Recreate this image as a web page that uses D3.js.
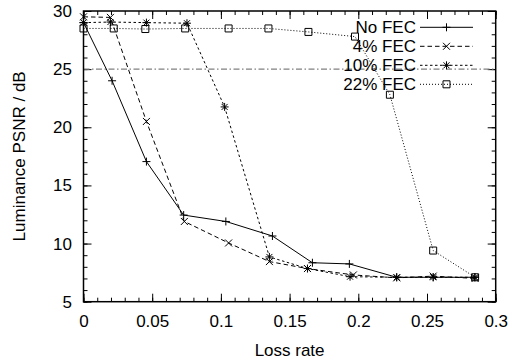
<!DOCTYPE html>
<html lang="en">
<head>
<meta charset="UTF-8">
<title>Luminance PSNR vs loss rate</title>
<script src="https://d3js.org/d3.v7.min.js"></script>
<style>
    body { margin: 0; padding: 0; background: #fff; }
    svg text { font-family: "Liberation Sans", Arial, sans-serif; font-size: 17px; fill: #000; }
    .line { fill: none; stroke: #000; stroke-width: 1; }
    .mark { fill: none; stroke: #000; stroke-width: 1; }
</style>
</head>
<body>
<div id="chart"></div>
<script>
    // loss rate (x) and luminance PSNR in dB (y)
    const seriesNames = ["No FEC", "4% FEC", "10% FEC", "22% FEC"];

    const noFecX = [0, 0.0208, 0.0458, 0.0729, 0.1036, 0.1375, 0.1666, 0.1935, 0.2279, 0.2545, 0.2847];
    const noFecY = [29.0, 24.0, 17.05, 12.45, 11.9, 10.65, 8.35, 8.25, 7.1, 7.1, 7.1];

    const fec4X = [0, 0.0196, 0.0458, 0.0734, 0.1056, 0.1353, 0.163, 0.1964, 0.228, 0.2545, 0.285];
    const fec4Y = [29.5, 29.45, 20.5, 11.9, 10.05, 8.45, 7.85, 7.3, 7.05, 7.2, 7.0];

    const fec10X = [0, 0.0196, 0.0458, 0.0753, 0.1027, 0.1353, 0.163, 0.194, 0.228, 0.2545, 0.285];
    const fec10Y = [29.0, 29.05, 29.0, 28.95, 21.75, 8.85, 7.85, 7.15, 7.1, 7.1, 7.1];

    const fec22X = [0, 0.022, 0.045, 0.074, 0.1056, 0.1346, 0.1637, 0.1976, 0.223, 0.2545, 0.285];
    const fec22Y = [28.5, 28.5, 28.45, 28.5, 28.5, 28.5, 28.2, 27.8, 22.8, 9.4, 7.1];

    const refLevel = 25;

    const xTicks = [0, 0.05, 0.1, 0.15, 0.2, 0.25, 0.3];
    const xMinor = d3.range(0, 0.3001, 0.01);
    const yTicks = [5, 10, 15, 20, 25, 30];
    const yMinor = d3.range(5, 30.001, 1);

    const width = 512, height = 362;
    const margin = { top: 11, right: 16.3, bottom: 60.3, left: 83.5 };
    const iw = width - margin.left - margin.right;
    const ih = height - margin.top - margin.bottom;

    const x = d3.scaleLinear().domain([0, 0.3]).range([0, iw]);
    const y = d3.scaleLinear().domain([5, 30]).range([ih, 0]);

    const svg = d3.select("#chart").append("svg")
        .attr("width", width)
        .attr("height", height);

    const g = svg.append("g")
        .attr("transform", `translate(${margin.left},${margin.top})`);

    // ticks: all inward, mirrored on top and right
    function addAxis(axis, tx, ty, labels) {
        const a = g.append("g").attr("transform", `translate(${tx},${ty})`).call(axis);
        a.select(".domain").remove();
        a.selectAll("line").attr("stroke", "#000").attr("stroke-width", 1);
        if (!labels) a.selectAll("text").remove();
        return a;
    }

    addAxis(d3.axisBottom(x).tickValues(xMinor).tickSize(-4).tickFormat(""), 0, ih, false);
    addAxis(d3.axisTop(x).tickValues(xMinor).tickSize(-4).tickFormat(""), 0, 0, false);
    addAxis(d3.axisBottom(x).tickValues(xTicks).tickSize(-8).tickPadding(13).tickFormat(d3.format("")), 0, ih, true);
    addAxis(d3.axisTop(x).tickValues(xTicks).tickSize(-8).tickFormat(""), 0, 0, false);

    addAxis(d3.axisLeft(y).tickValues(yMinor).tickSize(-4).tickFormat(""), 0, 0, false);
    addAxis(d3.axisRight(y).tickValues(yMinor).tickSize(-4).tickFormat(""), iw, 0, false);
    addAxis(d3.axisLeft(y).tickValues(yTicks).tickSize(-8).tickPadding(11.5).tickFormat(d3.format("")), 0, 0, true);
    addAxis(d3.axisRight(y).tickValues(yTicks).tickSize(-8).tickFormat(""), iw, 0, false);

    // reference level
    g.append("line")
        .attr("x1", 0).attr("x2", iw)
        .attr("y1", y(refLevel)).attr("y2", y(refLevel))
        .attr("stroke", "#808080")
        .attr("stroke-width", 1.2)
        .attr("stroke-dasharray", "6,2.5,1.5,2.5");

    const markerPaths = {
        plus: "M-4,0H4M0,-4V4",
        times: "M-3.5,-3.5L3.5,3.5M-3.5,3.5L3.5,-3.5",
        star: "M-4,0H4M0,-4V4M-3,-3L3,3M-3,3L3,-3",
        square: "M-3.5,-3.5H3.5V3.5H-3.5Z"
    };

    const series = [
        { name: seriesNames[0], xs: noFecX, ys: noFecY, dash: null, marker: "plus" },
        { name: seriesNames[1], xs: fec4X, ys: fec4Y, dash: "4.5,3", marker: "times" },
        { name: seriesNames[2], xs: fec10X, ys: fec10Y, dash: "2.5,2.5", marker: "star" },
        { name: seriesNames[3], xs: fec22X, ys: fec22Y, dash: "1,2", marker: "square" }
    ];

    const line = d3.line().x(d => x(d[0])).y(d => y(d[1]));

    series.forEach(s => {
        const pts = s.xs.map((v, i) => [v, s.ys[i]]);
        g.append("path")
            .datum(pts)
            .attr("class", "line")
            .attr("stroke-dasharray", s.dash)
            .attr("d", line);
        g.selectAll(null)
            .data(pts)
            .enter().append("path")
            .attr("class", "mark")
            .attr("transform", d => `translate(${x(d[0])},${y(d[1])})`)
            .attr("d", markerPaths[s.marker]);
    });

    // legend, top right, no box
    const legend = g.append("g").attr("transform", `translate(${416 - margin.left},${27.3 - margin.top})`);
    series.forEach((s, i) => {
        const row = legend.append("g").attr("transform", `translate(0,${i * 19})`);
        row.append("text")
            .attr("x", 0).attr("dy", "0.36em")
            .attr("text-anchor", "end")
            .text(s.name);
        row.append("line")
            .attr("class", "line")
            .attr("x1", 4).attr("x2", 57)
            .attr("stroke-dasharray", s.dash);
        row.append("path")
            .attr("class", "mark")
            .attr("transform", "translate(30.5,0)")
            .attr("d", markerPaths[s.marker]);
    });

    // frame
    g.append("rect")
        .attr("width", iw).attr("height", ih)
        .attr("fill", "none")
        .attr("stroke", "#000")
        .attr("stroke-width", 1.5);

    // axis titles
    svg.append("text")
        .attr("x", margin.left + iw / 2)
        .attr("y", 356)
        .attr("text-anchor", "middle")
        .text("Loss rate");

    svg.append("text")
        .attr("transform", `translate(25,${margin.top + ih / 2}) rotate(-90)`)
        .attr("text-anchor", "middle")
        .text("Luminance PSNR / dB");
</script>
</body>
</html>
